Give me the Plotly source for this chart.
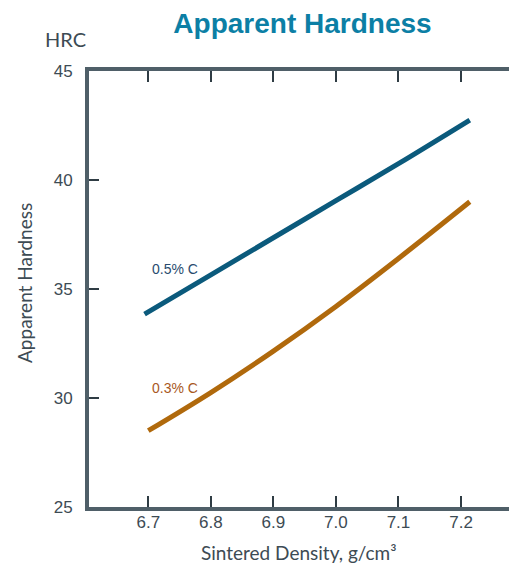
import plotly.graph_objects as go

# Data
density_05 = [6.694, 6.8, 6.9, 7.0, 7.1, 7.214]
hardness_05 = [33.85, 35.65, 37.35, 39.05, 40.75, 42.75]

density_03 = [6.7, 6.8, 6.9, 7.0, 7.1, 7.214]
hardness_03 = [28.5, 30.25, 32.15, 34.2, 36.4, 39.0]

x_ticks = [6.7, 6.8, 6.9, 7.0, 7.1, 7.2]
x_tick_labels = ["6.7", "6.8", "6.9", "7.0", "7.1", "7.2"]
y_ticks = [25, 30, 35, 40, 45]

BLUE = "#0b5a7c"
ORANGE = "#b0690c"
AXIS = "#4f5f68"
TXT = "#3d4b54"
TICKFONT = "Liberation Sans, Arial, sans-serif"
LABELFONT = "Lato, Roboto, sans-serif"

XRANGE = [6.6052, 7.2895]
YRANGE = [25, 45]

fig = go.Figure()
fig.add_trace(go.Scatter(x=density_05, y=hardness_05, mode="lines",
                         line=dict(color=BLUE, width=5, shape="spline"),
                         showlegend=False, hoverinfo="skip"))
fig.add_trace(go.Scatter(x=density_03, y=hardness_03, mode="lines",
                         line=dict(color=ORANGE, width=5, shape="spline"),
                         showlegend=False, hoverinfo="skip"))
# invisible trace for the top axis
fig.add_trace(go.Scatter(x=[6.7], y=[None], xaxis="x2", showlegend=False, hoverinfo="skip"))

fig.update_layout(
    width=509, height=561,
    margin=dict(l=81, r=0, t=63, b=62),
    paper_bgcolor="white", plot_bgcolor="white",
    font=dict(family=LABELFONT, color=TXT),
    title=dict(text="<b>Apparent Hardness</b>", xref="container", x=0.5786, xanchor="center",
               yref="container", y=0.9733, yanchor="middle",
               font=dict(family="Liberation Sans, Arial, sans-serif", size=28, color="#0c7fa5")),
    xaxis=dict(range=XRANGE, tickvals=x_ticks, ticktext=x_tick_labels,
               showgrid=False, zeroline=False, showline=True, linecolor=AXIS, linewidth=4,
               ticks="inside", ticklen=11, tickwidth=1.5, tickcolor="#2f3c44",
               ticklabelstandoff=-3,
               tickfont=dict(family=TICKFONT, size=17, color=TXT)),
    xaxis2=dict(overlaying="x", matches="x", side="top", range=XRANGE,
                tickvals=x_ticks, showticklabels=False, showgrid=False, zeroline=False,
                showline=True, linecolor=AXIS, linewidth=4,
                ticks="inside", ticklen=11, tickwidth=1.5, tickcolor="#2f3c44"),
    yaxis=dict(range=YRANGE, tickvals=y_ticks,
               showgrid=False, zeroline=False, showline=True, linecolor=AXIS, linewidth=4,
               ticks="inside", ticklen=10, tickwidth=1.5, tickcolor="#2f3c44",
               ticklabelstandoff=9,
               tickfont=dict(family=TICKFONT, size=17, color=TXT)),
    annotations=[
        dict(text="HRC", xref="paper", yref="paper", x=-0.1075, y=1.0745,
             xanchor="left", yanchor="middle", showarrow=False,
             font=dict(family=LABELFONT, size=20, color=TXT)),
        dict(text="Sintered Density, g/cm³", xref="paper", yref="paper", x=0.4907, y=-0.1055,
             xanchor="center", yanchor="middle", showarrow=False,
             font=dict(family=LABELFONT, size=19, color=TXT)),
        dict(text="Apparent Hardness", xref="paper", yref="paper", x=-0.1495, y=0.5138,
             xanchor="center", yanchor="middle", showarrow=False, textangle=-90,
             font=dict(family=LABELFONT, size=19, color=TXT)),
        dict(text="0.5% C", x=6.7027, y=35.9, xanchor="left", yanchor="middle",
             showarrow=False,
             font=dict(family="Liberation Sans, Arial, sans-serif", size=14, color="#284b6e")),
        dict(text="0.3% C", x=6.7027, y=30.48, xanchor="left", yanchor="middle",
             showarrow=False,
             font=dict(family="Liberation Sans, Arial, sans-serif", size=14, color="#a8581e")),
    ],
)

fig.write_html("out.html")
